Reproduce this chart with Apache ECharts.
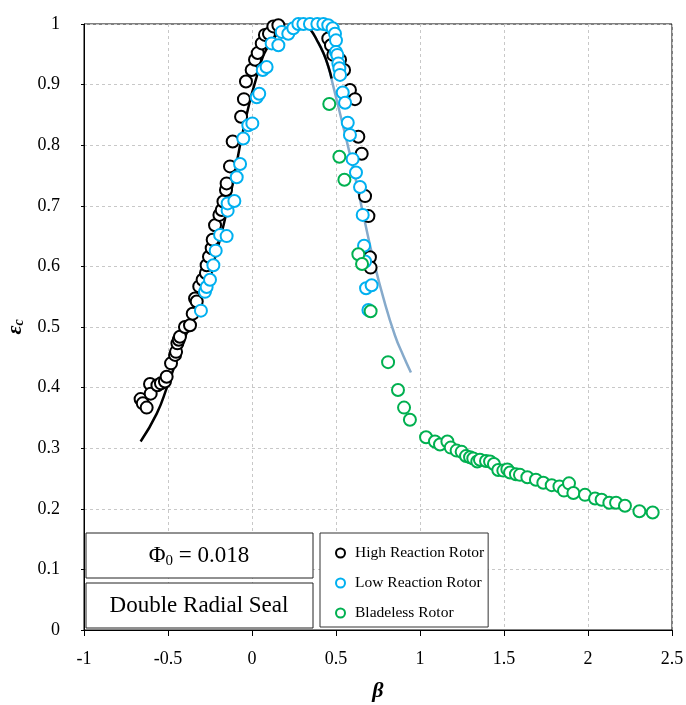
<!DOCTYPE html>
<html>
<head>
<meta charset="utf-8">
<script src="https://cdn.jsdelivr.net/npm/echarts@6/dist/echarts.min.js"></script>
<style>html,body{margin:0;padding:0;background:#fff}#c{width:686px;height:705px}</style>
</head>
<body>
<div id="c"></div>
<script>
var xTicks = [-1, -0.5, 0, 0.5, 1, 1.5, 2, 2.5];
var yTicks = [0, 0.1, 0.2, 0.3, 0.4, 0.5, 0.6, 0.7, 0.8, 0.9, 1];

var highReaction = [[-0.663,0.381],[-0.65,0.374],[-0.627,0.367],[-0.607,0.406],[-0.603,0.39],[-0.563,0.404],[-0.542,0.407],[-0.518,0.41],[-0.508,0.418],[-0.482,0.44],[-0.458,0.454],[-0.452,0.459],[-0.444,0.473],[-0.436,0.479],[-0.429,0.484],[-0.399,0.5],[-0.369,0.503],[-0.353,0.522],[-0.339,0.547],[-0.329,0.542],[-0.314,0.567],[-0.294,0.578],[-0.274,0.589],[-0.27,0.602],[-0.256,0.616],[-0.24,0.63],[-0.234,0.644],[-0.22,0.668],[-0.194,0.685],[-0.18,0.693],[-0.17,0.707],[-0.155,0.726],[-0.151,0.737],[-0.131,0.765],[-0.115,0.806],[-0.065,0.847],[-0.048,0.876],[-0.036,0.905],[-0.002,0.924],[0.018,0.941],[0.034,0.952],[0.058,0.968],[0.077,0.982],[0.101,0.984],[0.127,0.996],[0.157,0.998],[0.454,0.976],[0.47,0.965],[0.484,0.949],[0.524,0.941],[0.548,0.924],[0.583,0.891],[0.613,0.876],[0.633,0.814],[0.653,0.786],[0.673,0.716],[0.693,0.683],[0.702,0.615],[0.706,0.598]];

var lowReaction = [[-0.304,0.527],[-0.28,0.558],[-0.27,0.566],[-0.25,0.578],[-0.23,0.602],[-0.216,0.626],[-0.19,0.652],[-0.151,0.65],[-0.145,0.692],[-0.145,0.704],[-0.105,0.708],[-0.091,0.747],[-0.071,0.769],[-0.052,0.811],[-0.022,0.833],[0.002,0.836],[0.028,0.879],[0.043,0.885],[0.064,0.924],[0.087,0.929],[0.117,0.968],[0.157,0.965],[0.177,0.987],[0.216,0.984],[0.246,0.993],[0.276,1.0],[0.306,1.0],[0.345,1.0],[0.389,1.0],[0.425,1.0],[0.454,0.998],[0.48,0.993],[0.494,0.984],[0.5,0.973],[0.5,0.954],[0.508,0.949],[0.514,0.935],[0.52,0.927],[0.524,0.916],[0.54,0.887],[0.554,0.87],[0.57,0.837],[0.583,0.817],[0.599,0.777],[0.619,0.755],[0.643,0.731],[0.659,0.685],[0.667,0.634],[0.673,0.608],[0.679,0.564],[0.712,0.569],[0.693,0.528]];

var bladeless = [[0.46,0.868],[0.52,0.781],[0.55,0.743],[0.633,0.62],[0.655,0.604],[0.706,0.526],[0.81,0.442],[0.869,0.396],[0.905,0.367],[0.94,0.347],[1.036,0.318],[1.089,0.311],[1.119,0.306],[1.163,0.311],[1.183,0.301],[1.218,0.296],[1.248,0.294],[1.274,0.287],[1.298,0.285],[1.317,0.283],[1.341,0.278],[1.357,0.281],[1.393,0.279],[1.417,0.278],[1.44,0.274],[1.466,0.264],[1.496,0.263],[1.52,0.265],[1.536,0.26],[1.571,0.257],[1.595,0.256],[1.639,0.252],[1.69,0.248],[1.734,0.243],[1.784,0.239],[1.83,0.237],[1.857,0.23],[1.887,0.242],[1.913,0.226],[1.982,0.223],[2.042,0.217],[2.081,0.215],[2.127,0.21],[2.167,0.21],[2.22,0.205],[2.306,0.196],[2.385,0.194]];

var highFit = [[-0.663,0.311],[-0.567,0.357],[-0.504,0.402],[-0.448,0.446],[-0.389,0.49],[-0.31,0.545],[-0.23,0.605],[-0.131,0.715],[-0.052,0.825],[0.028,0.913],[0.107,0.968],[0.206,0.993],[0.28,1.0],[0.32,0.998],[0.35,0.99],[0.385,0.974],[0.425,0.952],[0.454,0.93],[0.474,0.91]];

var lowFit = [[0.28,1.0],[0.32,0.998],[0.35,0.99],[0.385,0.974],[0.425,0.952],[0.454,0.93],[0.484,0.897],[0.548,0.825],[0.613,0.749],[0.673,0.672],[0.722,0.612],[0.782,0.548],[0.851,0.486],[0.90,0.453],[0.946,0.425]];

var FONT = 'Liberation Serif';
var chart = echarts.init(document.getElementById('c'));

function scatter(name, data, color) {
  return {
    name: name, type: 'scatter', data: data, symbol: 'circle', symbolSize: 12,
    itemStyle: { color: '#fff', borderColor: color, borderWidth: 2, opacity: 1 },
    z: 3, animation: false
  };
}

chart.setOption({
  animation: false,
  backgroundColor: '#fff',
  grid: { left: 84, right: 14, top: 24, bottom: 75, show: true, borderColor: '#000', borderWidth: 1,
    backgroundColor: 'transparent', containLabel: false, outerBoundsMode: 'none' },
  xAxis: {
    type: 'value', min: xTicks[0], max: xTicks[xTicks.length - 1], interval: 0.5,
    name: 'β', nameLocation: 'middle', nameGap: 50,
    nameTextStyle: { fontFamily: FONT, fontSize: 22, fontWeight: 'bold', fontStyle: 'italic', color: '#000' },
    axisLine: { onZero: false, lineStyle: { color: '#000', width: 1 } },
    axisTick: { show: true, length: 6, inside: false, lineStyle: { color: '#000' } },
    axisLabel: { fontFamily: FONT, fontSize: 18, color: '#000', margin: 20 },
    splitLine: { show: true, lineStyle: { color: '#c8c8c8', type: [3, 3], width: 1 } }
  },
  yAxis: {
    type: 'value', min: yTicks[0], max: yTicks[yTicks.length - 1], interval: 0.1,
    name: '{e|ε}{s|c}', nameLocation: 'middle', nameGap: 57, nameRotate: 90,
    nameTextStyle: {
      rich: {
        e: { fontFamily: FONT, fontSize: 22, fontWeight: 'bold', fontStyle: 'italic', color: '#000' },
        s: { fontFamily: FONT, fontSize: 14, fontWeight: 'bold', fontStyle: 'italic', color: '#000', padding: [8, 0, 0, 0] }
      }
    },
    axisLine: { onZero: false, lineStyle: { color: '#000', width: 1 } },
    axisTick: { show: true, length: 3, lineStyle: { color: '#000' } },
    axisLabel: { fontFamily: FONT, fontSize: 18, color: '#000', margin: 24,
      formatter: function (v) { return String(Math.round(v * 10) / 10); } },
    splitLine: { show: true, lineStyle: { color: '#c8c8c8', type: [3, 3], width: 1 } }
  },
  legend: {
    orient: 'vertical', left: 320, top: 533,
    data: ['High Reaction Rotor', 'Low Reaction Rotor', 'Bladeless Rotor'],
    icon: 'circle', itemWidth: 9, itemHeight: 9, itemGap: 14,
    padding: [12, 4, 6, 15],
    borderColor: '#333', borderWidth: 1, backgroundColor: '#fff',
    textStyle: { fontFamily: FONT, fontSize: 15.5, color: '#000', padding: [0, 0, 0, 5] }
  },
  series: [
    { name: 'lowFit', type: 'line', data: lowFit, smooth: true, showSymbol: false, symbol: 'none',
      lineStyle: { color: '#86aacb', width: 2.5 }, z: 1 },
    { name: 'highFit', type: 'line', data: highFit, smooth: true, showSymbol: false, symbol: 'none',
      lineStyle: { color: '#000', width: 2.5 }, z: 2 },
    scatter('High Reaction Rotor', highReaction, '#000000'),
    scatter('Low Reaction Rotor', lowReaction, '#00b0f0'),
    scatter('Bladeless Rotor', bladeless, '#00b050')
  ],
  graphic: [
    { type: 'rect', shape: { x: 86, y: 533, width: 227, height: 45 }, style: { fill: '#fff', stroke: '#222', lineWidth: 1 }, z: 10 },
    { type: 'text', x: 199, y: 556, z: 11,
      style: { text: '{a|Φ}{b|0}{a| = 0.018}', align: 'center', verticalAlign: 'middle',
        rich: { a: { fontFamily: FONT, fontSize: 23, fill: '#000' , color: '#000'},
                b: { fontFamily: FONT, fontSize: 15, fill: '#000', color: '#000', padding: [10, 0, 0, 0] } } } },
    { type: 'rect', shape: { x: 86, y: 583, width: 227, height: 45 }, style: { fill: '#fff', stroke: '#222', lineWidth: 1 }, z: 10 },
    { type: 'text', x: 199, y: 606, z: 11,
      style: { text: 'Double Radial Seal', align: 'center', verticalAlign: 'middle', fontFamily: FONT, fontSize: 23, fill: '#000' } }
  ]
});
</script>
</body>
</html>
